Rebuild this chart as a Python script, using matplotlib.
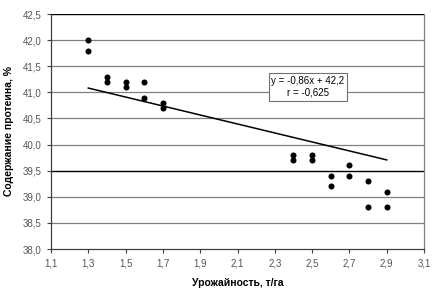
import matplotlib
matplotlib.use("Agg")
import matplotlib.pyplot as plt
import numpy as np
from matplotlib.ticker import FuncFormatter

plt.rcParams['font.family'] = ['Liberation Sans', 'DejaVu Sans']

x_vals = [1.3, 1.3, 1.4, 1.4, 1.5, 1.5, 1.6, 1.6, 1.7, 1.7,
          2.4, 2.4, 2.5, 2.5, 2.6, 2.6, 2.7, 2.7, 2.8, 2.8, 2.9, 2.9]
y_vals = [42.0, 41.8, 41.3, 41.2, 41.2, 41.1, 41.2, 40.9, 40.8, 40.7,
          39.8, 39.7, 39.8, 39.7, 39.4, 39.2, 39.6, 39.4, 39.3, 38.8, 39.1, 38.8]
slope = -0.86
intercept = 42.2
trend_x = [1.3, 2.9]
eq_text = "y = -0,86x + 42,2\nr = -0,625"
x_ticks = [1.1, 1.3, 1.5, 1.7, 1.9, 2.1, 2.3, 2.5, 2.7, 2.9, 3.1]
y_ticks = [38.0, 38.5, 39.0, 39.5, 40.0, 40.5, 41.0, 41.5, 42.0, 42.5]

fig = plt.figure(figsize=(4.4, 2.94), dpi=100)
ax = fig.add_axes([51/440, 45/294, 373/440, 235/294])

for yt in y_ticks:
    if yt in (39.5, 42.5):
        ax.axhline(yt, color='#000000', lw=1.0, zorder=1)
    elif yt > 38.0:
        ax.axhline(yt, color='#808080', lw=0.9, zorder=1)

ax.scatter(x_vals, y_vals, s=19, color='black', zorder=3, linewidths=0)
ty = [slope * t + intercept for t in trend_x]
ax.plot(trend_x, ty, color='black', lw=1.1, zorder=2)

ax.set_xlim(1.1, 3.1)
ax.set_ylim(38.0, 42.5)
ax.set_xticks(x_ticks)
ax.set_yticks(y_ticks)
fmt = FuncFormatter(lambda v, p: f"{v:.1f}".replace('.', ','))
ax.xaxis.set_major_formatter(fmt)
ax.yaxis.set_major_formatter(fmt)
ax.tick_params(axis='both', labelsize=7, labelcolor='#555555', length=3,
               width=0.8, color='#404040', direction='out', pad=4)

ax.spines['top'].set_visible(False)
ax.spines['right'].set_color('#808080')
ax.spines['left'].set_color('#404040')
ax.spines['bottom'].set_color('#404040')
for sp in ax.spines.values():
    sp.set_linewidth(0.9)

ax.text(0.689, 0.689, eq_text, transform=ax.transAxes, ha='center', va='center',
        fontsize=7, color='black', linespacing=1.2, zorder=5,
        bbox=dict(boxstyle='square,pad=0.3', fc='white', ec='#707070', lw=0.8))

ax.set_xlabel('Урожайность, т/га', fontsize=7.5, fontweight='bold')
ax.xaxis.set_label_coords(0.5, -0.125)
ax.set_ylabel('Содержание протеина, %', fontsize=7.5, fontweight='bold')
ax.yaxis.set_label_coords(-0.098, 0.5)

fig.savefig('out.png', dpi=100)
